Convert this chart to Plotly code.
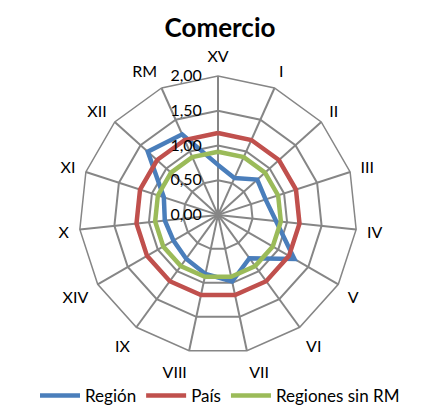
import plotly.graph_objects as go

categories = ["XV", "I", "II", "III", "IV", "V", "VI", "VII", "VIII", "IX", "XIV", "X", "XI", "XII", "RM"]
region = [0.72, 0.58, 0.76, 0.72, 0.84, 1.27, 0.77, 0.98, 0.87, 0.78, 0.74, 0.77, 0.82, 1.36, 1.27]
pais = [1.18, 1.18, 1.18, 1.18, 1.18, 1.18, 1.18, 1.18, 1.18, 1.18, 1.18, 1.18, 1.18, 1.18, 1.18]
sin_rm = [0.91, 0.91, 0.91, 0.91, 0.91, 0.91, 0.91, 0.91, 0.91, 0.91, 0.91, 0.91, 0.91, 0.91, 0.91]
series_names = ["Región", "País", "Regiones sin RM"]
radial_ticks = [0, 0.5, 1.0, 1.5, 2.0]

colors = ["#4A7EBB", "#C0504D", "#9BBB59"]
grid = "#868686"

fig = go.Figure()
for name, vals, col in zip(series_names, [region, pais, sin_rm], colors):
    fig.add_trace(go.Scatterpolar(
        r=vals + [vals[0]],
        theta=categories + [categories[0]],
        mode="lines",
        name=name,
        line=dict(color=col, width=4.5),
    ))

W, H = 424, 406
cx, cy, R = 210, 210, 141
fig.update_layout(
    width=W, height=H,
    margin=dict(l=0, r=0, t=0, b=0),
    paper_bgcolor="white",
    separators=",.",
    font=dict(family="Lato", size=16, color="black"),
    title=dict(text="<b>Comercio</b>", x=0.5, xanchor="center", y=1 - 20 / H, yanchor="middle",
               font=dict(size=26, color="black")),
    showlegend=True,
    legend=dict(orientation="h", x=0.5, xanchor="center", y=12 / H, yanchor="middle",
                font=dict(size=17), itemwidth=40, bgcolor="rgba(0,0,0,0)"),
    polar=dict(
        domain=dict(x=[(cx - R) / W, (cx + R) / W], y=[(H - cy - R) / H, (H - cy + R) / H]),
        bgcolor="white",
        gridshape="linear",
        radialaxis=dict(
            range=[0, 2], tickvals=radial_ticks, tickformat=".2f",
            angle=90, side="counterclockwise", tickangle=90,
            showline=False, gridcolor=grid, gridwidth=1.5,
            ticks="outside", ticklen=10, tickcolor="rgba(0,0,0,0)",
            tickfont=dict(size=16, color="black"),
        ),
        angularaxis=dict(
            direction="clockwise", rotation=90,
            gridcolor=grid, gridwidth=1.5,
            showline=True, linecolor=grid, linewidth=1.5,
            ticks="outside", ticklen=7, tickcolor="rgba(0,0,0,0)",
            tickfont=dict(size=16, color="black"),
        ),
    ),
)

fig.write_html("out.html")
